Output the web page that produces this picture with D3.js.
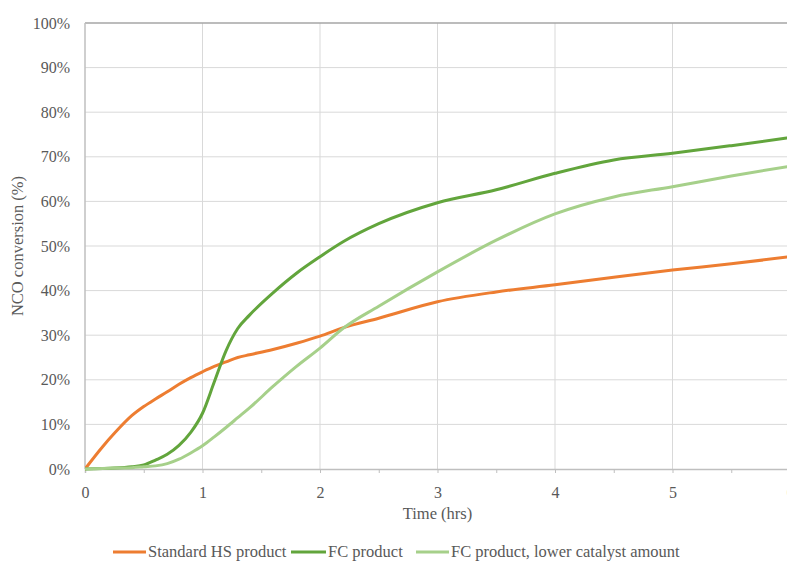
<!DOCTYPE html>
<html>
<head>
<meta charset="utf-8">
<script src="https://cdn.jsdelivr.net/npm/d3@7"></script>
<style>
html,body{margin:0;padding:0;background:#fff;overflow:hidden;}
svg{display:block;}
</style>
</head>
<body>
<svg id="chart" width="787" height="563"></svg>
<script>
const time = [0, 0.15, 0.25, 0.4, 0.5, 0.6, 0.7, 0.8, 0.9, 1.0, 1.1, 1.2, 1.3, 1.4, 1.6, 1.8, 2.0, 2.2, 2.5, 3.0, 3.5, 4.0, 4.5, 5.0, 5.5, 6.0];
const standardHS = [0, 5, 8, 12, 14, 15.7, 17.3, 19, 20.5, 21.8, 23, 24, 25, 25.6, 26.8, 28.2, 29.8, 31.7, 33.8, 37.5, 39.7, 41.3, 43, 44.6, 46, 47.6];
const fcProduct = [0, 0.1, 0.2, 0.5, 0.9, 2, 3.3, 5.3, 8.2, 12.5, 19.5, 26.5, 31.5, 34.5, 39.5, 43.9, 47.6, 51, 55, 59.7, 62.6, 66.3, 69.3, 70.8, 72.5, 74.3];
const fcLowCat = [0, 0.1, 0.2, 0.3, 0.5, 0.7, 1.2, 2.2, 3.6, 5.2, 7.2, 9.3, 11.5, 13.7, 18.5, 23, 27.1, 31.6, 36.5, 44.2, 51.3, 57.2, 61, 63.3, 65.7, 67.9];
const seriesNames = ["Standard HS product", "FC product", "FC product, lower catalyst amount"];
const seriesColors = ["#ED7D31", "#62A53C", "#A6D08A"];
const xTicks = [0, 1, 2, 3, 4, 5, 6];
const yTicks = [0, 10, 20, 30, 40, 50, 60, 70, 80, 90, 100];

(function () {
const svg = d3.select("#chart");
const pLeft = 85, pRight = 790, pTop = 23, pBottom = 469;
const x = d3.scaleLinear().domain([0, 6]).range([pLeft, pRight]);
const y = d3.scaleLinear().domain([0, 100]).range([pBottom, pTop]);
const font = "'Liberation Serif', 'Times New Roman', serif";
const textColor = "#595959";

// horizontal gridlines
svg.append("g").selectAll("line").data(yTicks.filter(d => d > 0 && d < 100)).join("line")
  .attr("x1", pLeft).attr("x2", pRight)
  .attr("y1", d => y(d)).attr("y2", d => y(d))
  .attr("stroke", "#d9d9d9").attr("stroke-width", 1);
// vertical gridlines
svg.append("g").selectAll("line").data(xTicks.filter(d => d > 0)).join("line")
  .attr("x1", d => x(d)).attr("x2", d => x(d))
  .attr("y1", pTop).attr("y2", pBottom)
  .attr("stroke", "#d9d9d9").attr("stroke-width", 1);

// top border
svg.append("line").attr("x1", pLeft).attr("x2", pRight).attr("y1", y(100)).attr("y2", y(100))
  .attr("stroke", "#a6a6a6").attr("stroke-width", 1.5);
// left axis line
svg.append("line").attr("x1", pLeft).attr("x2", pLeft).attr("y1", pTop).attr("y2", pBottom)
  .attr("stroke", "#bfbfbf").attr("stroke-width", 1.5);

// y axis
const yAxis = d3.axisLeft(y).tickValues(yTicks).tickFormat(d => d + "%").tickSize(0).tickPadding(15);
const gy = svg.append("g").attr("transform", `translate(${pLeft},0)`).call(yAxis);
gy.select(".domain").remove();
gy.selectAll("text").attr("font-family", font).attr("font-size", 16).attr("fill", textColor);

// x axis
const xAxis = d3.axisBottom(x).tickValues(xTicks).tickFormat(d3.format("d")).tickSize(4).tickPadding(14);
const gx = svg.append("g").attr("transform", `translate(0,${pBottom})`).call(xAxis);
gx.select(".domain").attr("stroke", "#bfbfbf").attr("stroke-width", 1.5);
gx.selectAll(".tick line").attr("stroke", "#bfbfbf");
gx.selectAll("text").attr("font-family", font).attr("font-size", 16).attr("fill", textColor);
// minor ticks
const xMinor = d3.axisBottom(x).tickValues(d3.range(0.5, 6, 1)).tickFormat("").tickSize(4);
const gxm = svg.append("g").attr("transform", `translate(0,${pBottom})`).call(xMinor);
gxm.select(".domain").remove();
gxm.selectAll(".tick line").attr("stroke", "#bfbfbf");

// axis titles
svg.append("text").attr("x", (pLeft + pRight) / 2).attr("y", 519)
  .attr("text-anchor", "middle").attr("font-family", font).attr("font-size", 16.5).attr("fill", textColor)
  .text("Time (hrs)");
svg.append("text").attr("transform", `translate(23,${(pTop + pBottom) / 2}) rotate(-90)`)
  .attr("text-anchor", "middle").attr("font-family", font).attr("font-size", 16.5).attr("fill", textColor)
  .text("NCO conversion (%)");

// lines
const seriesData = [standardHS, fcProduct, fcLowCat];
const line = d3.line().x(d => x(d[0])).y(d => y(d[1])).curve(d3.curveMonotoneX);
svg.append("defs").append("clipPath").attr("id", "clip").append("rect")
  .attr("x", pLeft).attr("y", pTop - 5).attr("width", pRight - pLeft).attr("height", pBottom - pTop + 10);
const gl = svg.append("g").attr("clip-path", "url(#clip)");
seriesData.forEach((vals, i) => {
  gl.append("path").datum(time.map((t, j) => [t, vals[j]]))
    .attr("d", line).attr("fill", "none")
    .attr("stroke", seriesColors[i]).attr("stroke-width", 3)
    .attr("stroke-linejoin", "round").attr("stroke-linecap", "round");
});

// legend
const legendY = 552;
const legendItems = [
  {x1: 113, x2: 146, tx: 148},
  {x1: 291, x2: 326, tx: 328},
  {x1: 416, x2: 449, tx: 451}
];
const lg = svg.append("g");
legendItems.forEach((it, i) => {
  lg.append("line").attr("x1", it.x1).attr("x2", it.x2).attr("y1", legendY).attr("y2", legendY)
    .attr("stroke", seriesColors[i]).attr("stroke-width", 3);
  lg.append("text").attr("x", it.tx).attr("y", legendY + 5)
    .attr("font-family", font).attr("font-size", 16.5).attr("fill", textColor)
    .text(seriesNames[i]);
});
})();
</script>
</body>
</html>
